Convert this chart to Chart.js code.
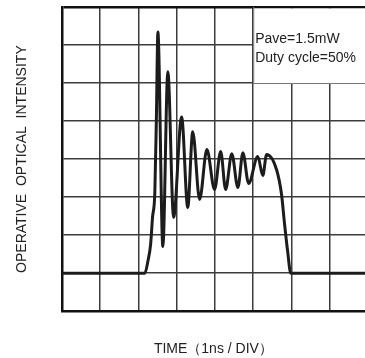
<!DOCTYPE html>
<html>
<head>
<meta charset="utf-8">
<script src="https://cdn.jsdelivr.net/npm/chart.js@4.4.1/dist/chart.umd.min.js"></script>
<style>
  html, body { margin: 0; padding: 0; background: #fff; overflow: hidden; }
  #wrap { width: 365px; height: 358px; }
</style>
</head>
<body>
<div id="wrap"><canvas id="waveChart" width="365" height="358"></canvas></div>
<script>
const timeNs = [0, 2.17, 2.25, 2.32, 2.37, 2.43, 2.47, 2.51, 2.64, 2.77, 2.92, 3.13, 3.29, 3.42, 3.60,
                3.79, 3.99, 4.15, 4.28, 4.44, 4.60, 4.73, 4.88, 5.12, 5.25, 5.35, 5.61, 5.74, 5.82,
                5.90, 5.98, 7.92];
const intensity = [1.0, 1.0, 1.32, 1.76, 2.47, 3.12, 5.04, 7.34, 1.70, 6.30, 2.47, 5.11, 2.73, 4.72, 2.94,
                   4.25, 3.20, 4.20, 3.20, 4.14, 3.25, 4.17, 3.36, 4.07, 3.57, 4.12, 3.72, 3.07, 2.28,
                   1.57, 1.0, 1.0];
const xTicks = [0, 1, 2, 3, 4, 5, 6, 7];
const yTicks = [0, 1, 2, 3, 4, 5, 6, 7, 8];
const noteLines = ['Pave=1.5mW', 'Duty cycle=50%'];

const FONT = '"Liberation Sans", Arial, Helvetica, sans-serif';

// Cadre de la légende (colonnes 5 à la fin, lignes 6 à 8)
const noteBox = {
    id: 'noteBox',
    beforeDatasetsDraw(chart) {
        const ctx = chart.ctx;
        const x = chart.scales.x, y = chart.scales.y;
        const left = x.getPixelForValue(5);
        const bottom = y.getPixelForValue(6);
        const top = y.getPixelForValue(8);
        const right = chart.chartArea.right;
        ctx.save();
        ctx.fillStyle = '#fff';
        ctx.fillRect(left, top + 1.5, right - left, bottom - top - 1.5);
        ctx.strokeStyle = '#777';
        ctx.lineWidth = 1;
        ctx.beginPath();
        ctx.moveTo(left + 0.5, top);
        ctx.lineTo(left + 0.5, bottom + 0.5);
        ctx.lineTo(right, bottom + 0.5);
        ctx.stroke();
        ctx.fillStyle = '#222';
        ctx.font = '14px ' + FONT;
        ctx.textBaseline = 'alphabetic';
        ctx.fillText(noteLines[0], left + 2, top + 36);
        ctx.fillText(noteLines[1], left + 2, top + 55);
        ctx.restore();
    }
};

document.addEventListener('DOMContentLoaded', function() {
    const ctx = document.getElementById('waveChart').getContext('2d');
    new Chart(ctx, {
        type: 'line',
        data: {
            datasets: [{
                data: timeNs.map((t, i) => ({ x: t, y: intensity[i] })),
                borderColor: '#1c1c1c',
                borderWidth: 3,
                pointRadius: 0,
                cubicInterpolationMode: 'monotone',
                fill: false
            }]
        },
        options: {
            responsive: false,
            animation: false,
            layout: { padding: { top: 7, right: 0, bottom: 0, left: 0 } },
            plugins: { legend: { display: false }, tooltip: { enabled: false } },
            scales: {
                x: {
                    type: 'linear',
                    min: 0,
                    max: 7.92,
                    afterBuildTicks: s => { s.ticks = xTicks.map(v => ({ value: v })); },
                    ticks: { display: false },
                    grid: { color: '#3c3c3c', lineWidth: 1.5, drawTicks: false },
                    border: { color: '#111', width: 2.5 },
                    title: {
                        display: true,
                        text: 'TIME（1ns / DIV）',
                        color: '#222',
                        font: { family: FONT, size: 14 },
                        padding: { top: 30, bottom: 0 }
                    }
                },
                y: {
                    type: 'linear',
                    min: 0,
                    max: 8,
                    afterBuildTicks: s => { s.ticks = yTicks.map(v => ({ value: v })); },
                    ticks: { display: false },
                    grid: {
                        color: c => c.tick.value === 8 ? '#111' : '#3c3c3c',
                        lineWidth: c => c.tick.value === 8 ? 2.5 : 1.5,
                        drawTicks: false
                    },
                    border: { color: '#111', width: 2.5 },
                    title: {
                        display: true,
                        text: 'OPERATIVE  OPTICAL  INTENSITY',
                        color: '#222',
                        font: { family: FONT, size: 14 },
                        padding: { top: 14, bottom: 31 }
                    }
                }
            }
        },
        plugins: [noteBox]
    });
});
</script>
</body>
</html>
